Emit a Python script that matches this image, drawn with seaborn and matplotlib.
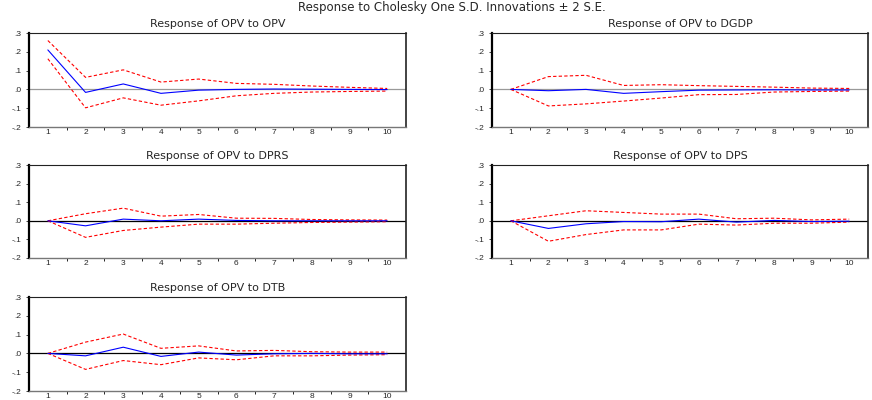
import numpy as np
import pandas as pd
import seaborn as sns
import matplotlib.pyplot as plt
from matplotlib.ticker import FixedLocator, FuncFormatter

# -- Data
periods = [1, 2, 3, 4, 5, 6, 7, 8, 9, 10]
shocks = ["OPV", "DGDP", "DPRS", "DPS", "DTB"]

resp_opv = [0.210, -0.016, 0.029, -0.021, -0.004, 0.000, 0.002, 0.001, 0.000, -0.001]
upper_opv = [0.260, 0.064, 0.104, 0.039, 0.055, 0.032, 0.027, 0.018, 0.011, 0.005]
lower_opv = [0.163, -0.098, -0.045, -0.084, -0.061, -0.034, -0.021, -0.014, -0.011, -0.009]

resp_dgdp = [0.000, -0.007, 0.000, -0.021, -0.012, -0.004, -0.003, -0.002, -0.003, -0.003]
upper_dgdp = [0.000, 0.068, 0.075, 0.021, 0.025, 0.020, 0.016, 0.012, 0.007, 0.005]
lower_dgdp = [0.000, -0.088, -0.077, -0.062, -0.046, -0.028, -0.027, -0.014, -0.011, -0.009]

resp_dprs = [0.000, -0.027, 0.009, 0.000, 0.009, 0.002, 0.000, 0.000, 0.000, 0.000]
upper_dprs = [0.000, 0.038, 0.068, 0.025, 0.034, 0.014, 0.013, 0.007, 0.005, 0.004]
lower_dprs = [0.000, -0.089, -0.052, -0.034, -0.018, -0.018, -0.013, -0.009, -0.007, -0.005]

resp_dps = [0.000, -0.041, -0.016, -0.004, -0.005, 0.009, -0.007, 0.002, -0.004, -0.002]
upper_dps = [0.000, 0.027, 0.054, 0.045, 0.036, 0.036, 0.011, 0.014, 0.005, 0.009]
lower_dps = [0.000, -0.110, -0.074, -0.049, -0.049, -0.018, -0.023, -0.013, -0.013, -0.007]

resp_dtb = [0.000, -0.013, 0.033, -0.016, 0.007, -0.009, -0.002, 0.000, -0.002, -0.002]
upper_dtb = [0.000, 0.060, 0.103, 0.027, 0.040, 0.013, 0.016, 0.009, 0.007, 0.007]
lower_dtb = [0.000, -0.085, -0.038, -0.060, -0.024, -0.034, -0.013, -0.013, -0.009, -0.007]

series = {
    "OPV": (resp_opv, upper_opv, lower_opv),
    "DGDP": (resp_dgdp, upper_dgdp, lower_dgdp),
    "DPRS": (resp_dprs, upper_dprs, lower_dprs),
    "DPS": (resp_dps, upper_dps, lower_dps),
    "DTB": (resp_dtb, upper_dtb, lower_dtb),
}

# -- Style
sns.set_style("white")
plt.rcParams['font.family'] = ['Liberation Sans', 'DejaVu Sans']
title_font = ['DejaVu Sans']

W, H = 872, 400
fig = plt.figure(figsize=(W / 100, H / 100), dpi=100)

# panel boxes in pixels: (left, top, right, bottom)
boxes = [
    (29, 33, 406, 127), (492, 33, 868, 127),
    (29, 165, 406, 258), (492, 165, 868, 258),
    (29, 297, 406, 391),
]


def yfmt(v, pos):
    s = f"{v:.1f}"
    return s.replace("0.", ".") if v >= 0 else s.replace("-0.", "-.")


for i, name in enumerate(shocks):
    l, t, r, b = boxes[i]
    ax = fig.add_axes([l / W, 1 - b / H, (r - l) / W, (b - t) / H])
    resp, up, lo = series[name]
    df = pd.DataFrame({"period": periods, "resp": resp, "up": up, "lo": lo})

    zero_col = "#999999" if i < 2 else "black"
    ax.axhline(0, color=zero_col, lw=0.9, zorder=1)
    sns.lineplot(data=df, x="period", y="up", ax=ax, color="red", lw=0.8,
                 linestyle=(0, (3, 2)), zorder=2)
    sns.lineplot(data=df, x="period", y="lo", ax=ax, color="red", lw=0.8,
                 linestyle=(0, (3, 2)), zorder=2)
    sns.lineplot(data=df, x="period", y="resp", ax=ax, color="blue", lw=0.8, zorder=3)

    ax.set_xlim(0.5, 10.5)
    ax.set_ylim(-0.2, 0.3)
    ax.set_xlabel("")
    ax.set_ylabel("")

    ax.xaxis.set_major_locator(FixedLocator(periods))
    ax.xaxis.set_minor_locator(FixedLocator([p + 0.5 for p in periods[:-1]]))
    ax.tick_params(axis="x", which="major", length=0, labelsize=6, pad=1.5)
    ax.tick_params(axis="x", which="minor", length=2.5, width=0.6, direction="out",
                   bottom=True, color="black")
    ax.set_yticks([-0.2, -0.1, 0.0, 0.1, 0.2, 0.3])
    ax.yaxis.set_major_formatter(FuncFormatter(yfmt))
    ax.tick_params(axis="y", length=2.5, width=0.6, direction="out", left=True,
                   labelsize=6, pad=3)

    ax.spines["left"].set_linewidth(1.6)
    ax.spines["left"].set_color("black")
    ax.spines["bottom"].set_linewidth(1.0)
    ax.spines["bottom"].set_color("#777777")
    ax.spines["top"].set_linewidth(0.8)
    ax.spines["top"].set_color("#222222")
    ax.spines["right"].set_linewidth(1.2)
    ax.spines["right"].set_color("#222222")

    ax.set_title(f"Response of OPV to {name}", fontsize=8, pad=4, family=title_font)

fig.text(452 / W, 1 - 8 / H, "Response to Cholesky One S.D. Innovations \u00b1 2 S.E.",
         ha="center", va="center", fontsize=8.5, family=title_font)

fig.savefig("out.png", dpi=100)
